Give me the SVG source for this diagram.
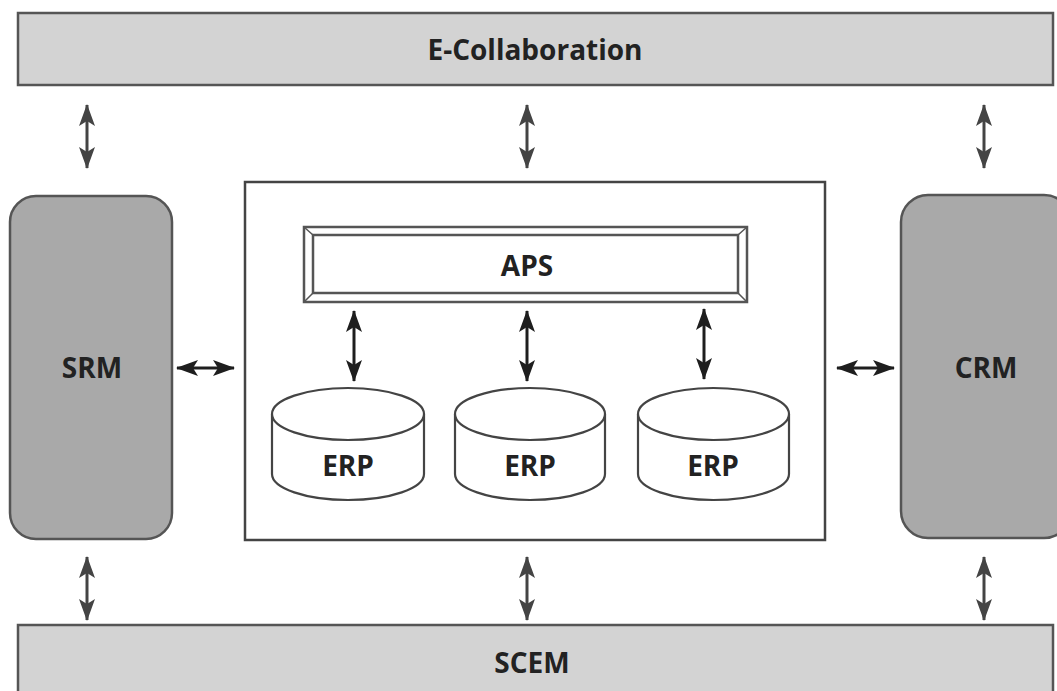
<svg xmlns="http://www.w3.org/2000/svg" width="1057" height="691" viewBox="0 0 1057 691">
<style>
.bar{fill:#d3d3d3;stroke:#555;stroke-width:2.5}
.side{fill:#a9a9a9;stroke:#555;stroke-width:2.5}
.box{fill:#fff;stroke:#444;stroke-width:2.5}
.cyl{fill:#fff;stroke:#444;stroke-width:2.2}
.lbl{font-family:"Open Sans","Liberation Sans",sans-serif;font-weight:700;font-size:28px;fill:#222;text-anchor:middle}
.a1{stroke:#444;stroke-width:3;fill:none;marker-start:url(#h1);marker-end:url(#h1)}
.a2{stroke:#1e1e1e;stroke-width:3;fill:none;marker-start:url(#h2);marker-end:url(#h2)}
</style>
<defs>
<marker id="h1" viewBox="0 0 22 16" refX="21" refY="8" markerWidth="22" markerHeight="16" markerUnits="userSpaceOnUse" orient="auto-start-reverse"><path d="M0,0 L22,8 L0,16 L5,8 Z" fill="#444"/></marker>
<marker id="h2" viewBox="0 0 22 16" refX="21" refY="8" markerWidth="22" markerHeight="16" markerUnits="userSpaceOnUse" orient="auto-start-reverse"><path d="M0,0 L22,8 L0,16 L5,8 Z" fill="#1e1e1e"/></marker>
</defs>
<rect width="1057" height="691" fill="#fff"/>
<g id="ecollab"><rect class="bar" x="18" y="13" width="1035" height="72"/><text class="lbl" x="535" y="60">E-Collaboration</text></g>
<g id="scem"><rect class="bar" x="18" y="625" width="1035" height="80"/><text class="lbl" x="532" y="673">SCEM</text></g>
<g id="srm"><rect class="side" x="10" y="196" width="162" height="343" rx="26"/><text class="lbl" x="92" y="378">SRM</text></g>
<g id="crm"><rect class="side" x="901" y="195" width="170" height="343" rx="27"/><text class="lbl" x="986" y="378">CRM</text></g>
<g id="center"><rect class="box" x="245" y="182" width="580" height="358"/></g>
<g id="aps">
<rect x="304" y="227" width="443" height="75" fill="#fff" stroke="#555" stroke-width="2.5"/>
<rect x="313" y="235" width="425" height="58" fill="#fff" stroke="#555" stroke-width="2.5"/>
<path d="M304,227 L313,235 M747,227 L738,235 M304,302 L313,293 M747,302 L738,293" stroke="#555" stroke-width="1.5"/>
<text class="lbl" x="527" y="276">APS</text>
</g>
<g id="erp1"><path class="cyl" d="M272,414 V474 A76,26 0 0 0 424,474 V414"/><ellipse class="cyl" cx="348" cy="414" rx="76" ry="26"/><text class="lbl" x="348" y="476">ERP</text></g>
<g id="erp2"><path class="cyl" d="M455,414 V474 A75,26 0 0 0 605,474 V414"/><ellipse class="cyl" cx="530" cy="414" rx="75" ry="26"/><text class="lbl" x="530" y="476">ERP</text></g>
<g id="erp3"><path class="cyl" d="M638,414 V474 A75.5,26 0 0 0 789,474 V414"/><ellipse class="cyl" cx="713.5" cy="414" rx="75.5" ry="26"/><text class="lbl" x="713" y="476">ERP</text></g>
<g id="connectors">
<line class="a1" x1="87" y1="105" x2="87" y2="168"/>
<line class="a1" x1="527" y1="105" x2="527" y2="168"/>
<line class="a1" x1="984" y1="105" x2="984" y2="168"/>
<line class="a1" x1="87" y1="557" x2="87" y2="620"/>
<line class="a1" x1="527" y1="557" x2="527" y2="620"/>
<line class="a1" x1="984" y1="557" x2="984" y2="620"/>
<line class="a2" x1="354" y1="311" x2="354" y2="381"/>
<line class="a2" x1="527" y1="311" x2="527" y2="381"/>
<line class="a2" x1="704" y1="309" x2="704" y2="379"/>
<line class="a2" x1="177" y1="368" x2="234" y2="368"/>
<line class="a2" x1="837" y1="368" x2="894" y2="368"/>
</g>
</svg>
